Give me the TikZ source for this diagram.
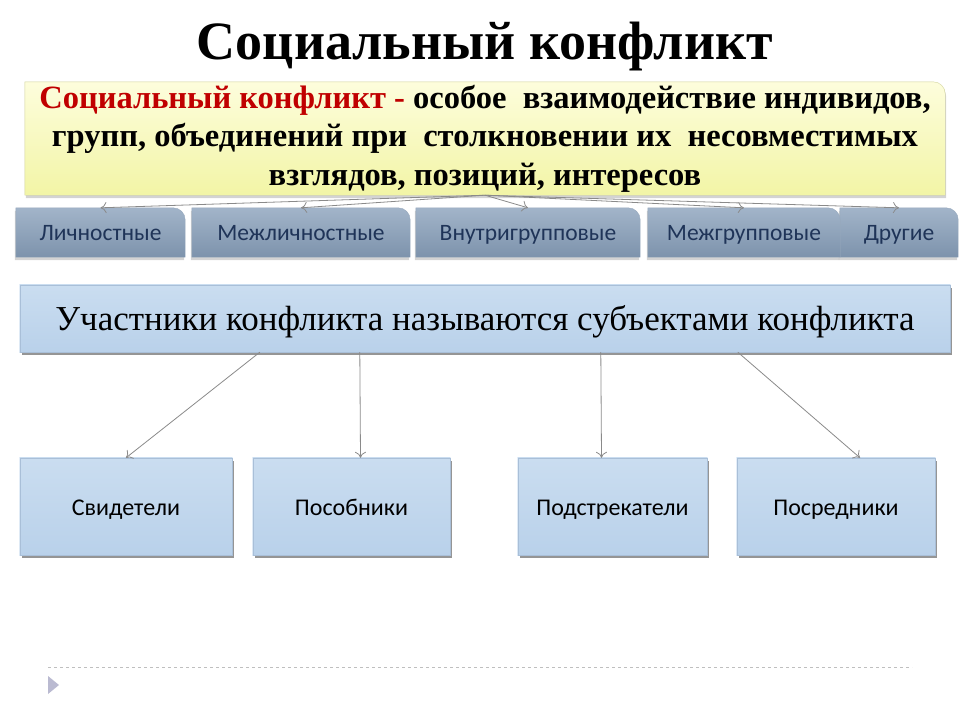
\documentclass[tikz,border=0pt]{standalone}
\usepackage{fontspec}
\setmainfont{Liberation Serif}
\setsansfont{Carlito}
\usetikzlibrary{
    arrows.meta,
    backgrounds,
    calc,
    shadows,
    positioning
}
\definecolor{defred}{HTML}{C00000}
\definecolor{typetext}{HTML}{1F3458}
\definecolor{conngray}{HTML}{8A8A8A}
\definecolor{yellowtop}{HTML}{FDFDDC}
\definecolor{yellowbot}{HTML}{F2F5A6}
\definecolor{steeltop}{HTML}{A2B4C9}
\definecolor{steelbot}{HTML}{7D93AC}
\definecolor{skytop}{HTML}{CADDF0}
\definecolor{skybot}{HTML}{B9D1EA}
\definecolor{skyline}{HTML}{A9BFD8}
\tikzset{
    title/.style={font=\bfseries\fontsize{54}{58}\selectfont},
    defbox/.style={align=center, font=\bfseries\fontsize{32.5}{38.5}\selectfont, inner sep=0pt},
    typebox/.style={font=\sffamily\fontsize{23.5}{26}\selectfont, text=typetext,
        minimum height=49pt, inner sep=0pt, text height=17pt, text depth=1pt},
    partbox/.style={font=\fontsize{35}{40}\selectfont, minimum height=67pt, inner sep=0pt,
        text height=26pt, text depth=2pt},
    rolebox/.style={font=\sffamily\fontsize{24}{27}\selectfont, minimum height=97pt, inner sep=0pt,
        text height=18pt, text depth=1pt},
    yellowfill/.style={top color=yellowtop, bottom color=yellowbot, draw=yellowbot!70!gray,
        drop shadow={shadow xshift=1pt, shadow yshift=-3pt, opacity=.35}},
    steelfill/.style={top color=steeltop, bottom color=steelbot, draw=steelbot!80,
        drop shadow={shadow xshift=-1pt, shadow yshift=-3pt, opacity=.35}},
    skyfill/.style={top color=skytop, bottom color=skybot, draw=skyline,
        drop shadow={shadow xshift=2pt, shadow yshift=-3pt, opacity=.3}},
    conn/.style={draw=conngray, line width=0.8pt, -{To[length=6pt, width=11pt]}}
}
\newcommand{\tabshape}[2]{%
    \path[#2] (#1.south west) -- (#1.north west) [rounded corners=12pt]
        -- (#1.north east) [sharp corners] -- (#1.south east) -- cycle;}
\begin{document}
\begin{tikzpicture}[x=1pt, y=-1pt]
    \useasboundingbox (0,0) rectangle (960,720);
    \node[title] (title) at (485,47) {Социальный конфликт};
    % definition
    \node[defbox, minimum width=920pt, minimum height=113pt] (def) at (485,138.5)
        {{\color{defred}Социальный конфликт -} особое\ \ взаимодействие индивидов,\\
         групп, объединений при\ \ столкновении их\ \ несовместимых\\
         взглядов, позиций, интересов};
    % kinds of conflict
    \node[typebox, minimum width=169pt] (lich) at (100.5,232.5) {Личностные};
    \node[typebox, minimum width=218pt] (mezhl) at (301,232.5) {Межличностные};
    \node[typebox, minimum width=224pt] (vnutr) at (528,232.5) {Внутригрупповые};
    \node[typebox, minimum width=192pt] (mezhg) at (744,232.5) {Межгрупповые};
    \node[typebox, minimum width=118pt] (drug) at (899,232.5) {Другие};
    % participants
    \node[partbox, minimum width=930pt] (part) at (485,318.5)
        {Участники конфликта называются субъектами конфликта};
    \node[rolebox, minimum width=212pt] (svid) at (126,506.5) {Свидетели};
    \node[rolebox, minimum width=197pt] (posob) at (351.5,506.5) {Пособники};
    \node[rolebox, minimum width=189pt] (podstr) at (612.5,506.5) {Подстрекатели};
    \node[rolebox, minimum width=198pt] (posred) at (836,506.5) {Посредники};
    \begin{scope}[on background layer]
        \tabshape{def}{yellowfill}
        \foreach \t in {drug, lich, mezhl, vnutr, mezhg}
            \tabshape{\t}{steelfill}
        \foreach \r in {part, svid, posob, podstr, posred}
            \path[skyfill] (\r.south west) rectangle (\r.north east);
    \end{scope}
    \foreach \t in {lich, mezhl, vnutr, mezhg, drug}
        \draw[conn] (def.south) -- (\t.north);
    \draw[conn] ($(part.south west)+(240,0)$) -- (svid.north);
    \draw[conn] ($(part.south west)+(340,0)$) -- ($(posob.north)+(9,0)$);
    \draw[conn] ($(part.south west)+(581,0)$) -- ($(podstr.north)+(-11,0)$);
    \draw[conn] ($(part.south west)+(718,0)$) -- ($(posred.north)+(24,0)$);
    % footer
    \draw[dashed, gray!50] (48,667) -- (912,667);
    \fill[blue!20!gray!45] (48,676) -- (59,685) -- (48,694) -- cycle;
\end{tikzpicture}
\end{document}
